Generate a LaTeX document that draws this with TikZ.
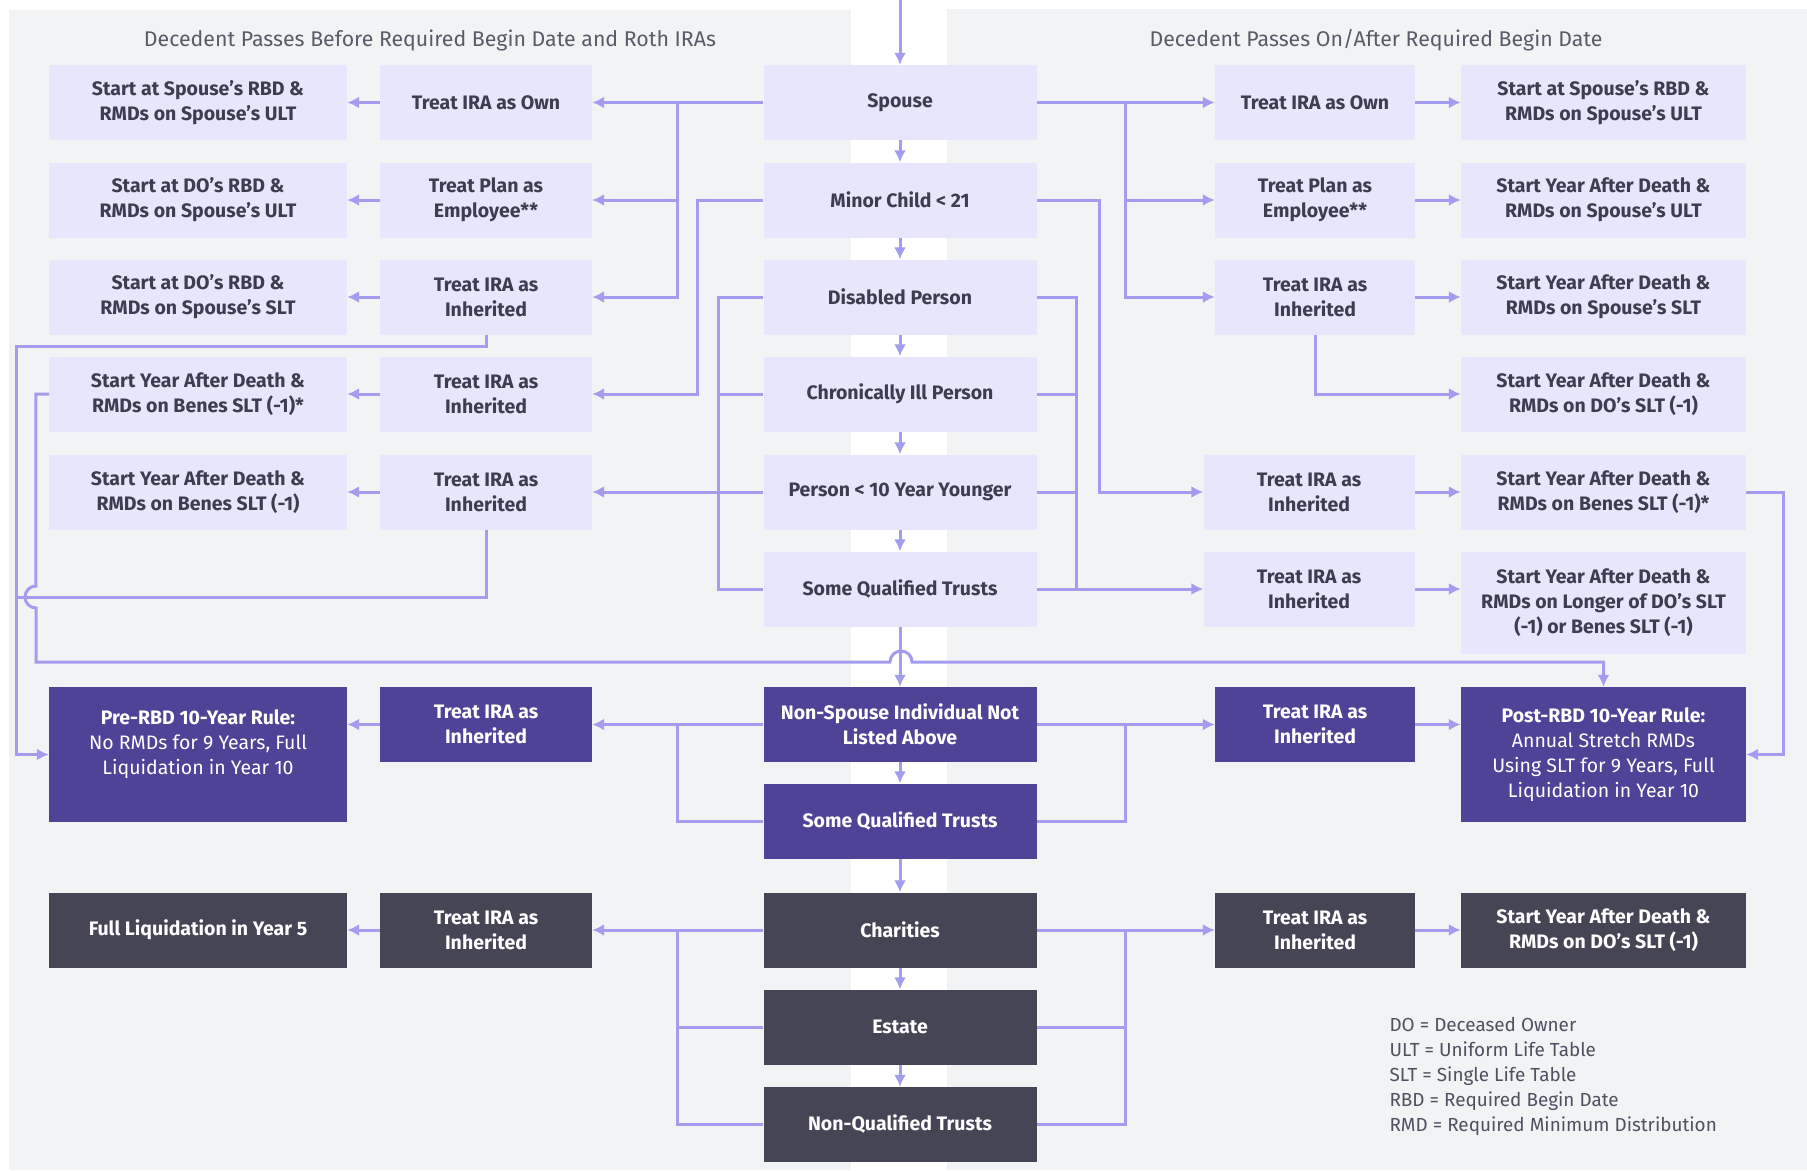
\documentclass[tikz,border=0pt]{standalone}
\usepackage{fontspec}
\setmainfont{Fira Sans}
\usetikzlibrary{arrows.meta}
\definecolor{panel}{HTML}{F2F3F5}
\definecolor{boxlight}{HTML}{E7E6FC}
\definecolor{boxpurple}{HTML}{4F4398}
\definecolor{boxdark}{HTML}{454556}
\definecolor{wire}{HTML}{A49CEE}
\definecolor{ink}{HTML}{3D3D4F}
\tikzset{
  base/.style={inner sep=0pt,align=center,minimum height=75pt,font=\fontsize{19.5}{25}\selectfont\bfseries},
  lbox/.style={base,fill=boxlight,text=ink},
  pbox/.style={base,fill=boxpurple,text=white},
  dbox/.style={base,fill=boxdark,text=white},
  mid/.style={minimum width=273pt},
  ltreat/.style={minimum width=212pt},
  lres/.style={minimum width=298pt},
  rtreat/.style={minimum width=200pt},
  rres/.style={minimum width=285pt},
  flow/.style={draw=wire,line width=3pt,-{Latex[length=12pt,width=12pt]}},
  link/.style={draw=wire,line width=3pt},
  heading/.style={font=\fontsize{21.3}{25}\selectfont,text=ink!85}
}
\begin{document}
\begin{tikzpicture}[x=1pt,y=-1pt]
	\useasboundingbox (0,0) rectangle (1807,1170);
	\fill[white] (0,0) rectangle (1807,1170);
	\fill[panel] (9,10) rectangle (851,1170);
	\fill[panel] (947,9) rectangle (1807,1170);
	\node[heading] (headl) at (430,40) {Decedent Passes Before Required Begin Date and Roth IRAs};
	\node[heading] (headr) at (1376,40) {Decedent Passes On/After Required Begin Date};
	% centre column
	\node[lbox,mid] (spouse) at (900,102.5) {Spouse};
	\node[lbox,mid] (minor) at (900,200) {Minor Child < 21};
	\node[lbox,mid] (disabled) at (900,297) {Disabled Person};
	\node[lbox,mid] (chronic) at (900,394) {Chronically Ill Person};
	\node[lbox,mid] (younger) at (900,492) {Person < 10 Year Younger};
	\node[lbox,mid] (sqta) at (900,589) {Some Qualified Trusts};
	\node[pbox,mid] (nonspouse) at (900,724.5) {Non-Spouse Individual Not\\Listed Above};
	\node[pbox,mid] (sqtb) at (900,821) {Some Qualified Trusts};
	\node[dbox,mid] (charity) at (900,930) {Charities};
	\node[dbox,mid] (estate) at (900,1027) {Estate};
	\node[dbox,mid] (nonqt) at (900,1124.5) {Non-Qualified Trusts};
	% left side
	\node[lbox,ltreat] (lown) at (486,102.5) {Treat IRA as Own};
	\node[lbox,ltreat] (lplan) at (486,200) {Treat Plan as\\Employee**};
	\node[lbox,ltreat] (linha) at (486,297) {Treat IRA as\\Inherited};
	\node[lbox,ltreat] (linhb) at (486,394) {Treat IRA as\\Inherited};
	\node[lbox,ltreat] (linhc) at (486,492) {Treat IRA as\\Inherited};
	\node[pbox,ltreat] (linhd) at (486,724.5) {Treat IRA as\\Inherited};
	\node[dbox,ltreat] (linhe) at (486,930) {Treat IRA as\\Inherited};
	\node[lbox,lres] (lres1) at (198,102.5) {Start at Spouse's RBD \&\\RMDs on Spouse's ULT};
	\node[lbox,lres] (lres2) at (198,200) {Start at DO's RBD \&\\RMDs on Spouse's ULT};
	\node[lbox,lres] (lres3) at (198,297) {Start at DO's RBD \&\\RMDs on Spouse's SLT};
	\node[lbox,lres] (lres4) at (198,394) {Start Year After Death \&\\RMDs on Benes SLT (-1)*};
	\node[lbox,lres] (lres5) at (198,492) {Start Year After Death \&\\RMDs on Benes SLT (-1)};
	\node[pbox,lres,minimum height=135pt] (prerbd) at (198,754.5) {Pre-RBD 10-Year Rule:\\\mdseries No RMDs for 9 Years, Full\\\mdseries Liquidation in Year 10\\ \mbox{}};
	\node[dbox,lres] (lfull) at (198,930) {Full Liquidation in Year 5};
	% right side
	\node[lbox,rtreat] (rown) at (1315,102.5) {Treat IRA as Own};
	\node[lbox,rtreat] (rplan) at (1315,200) {Treat Plan as\\Employee**};
	\node[lbox,rtreat] (rinha) at (1315,297) {Treat IRA as\\Inherited};
	\node[lbox,minimum width=211pt] (rinhb) at (1309,492) {Treat IRA as\\Inherited};
	\node[lbox,minimum width=211pt] (rinhc) at (1309,589) {Treat IRA as\\Inherited};
	\node[pbox,rtreat] (rinhd) at (1315,724.5) {Treat IRA as\\Inherited};
	\node[dbox,rtreat] (rinhe) at (1315,930) {Treat IRA as\\Inherited};
	\node[lbox,rres] (rres1) at (1603.5,102.5) {Start at Spouse's RBD \&\\RMDs on Spouse's ULT};
	\node[lbox,rres] (rres2) at (1603.5,200) {Start Year After Death \&\\RMDs on Spouse's ULT};
	\node[lbox,rres] (rres3) at (1603.5,297) {Start Year After Death \&\\RMDs on Spouse's SLT};
	\node[lbox,rres] (rres4) at (1603.5,394) {Start Year After Death \&\\RMDs on DO's SLT (-1)};
	\node[lbox,rres] (rres5) at (1603.5,492) {Start Year After Death \&\\RMDs on Benes SLT (-1)*};
	\node[lbox,rres,minimum height=102pt] (rres6) at (1603.5,603) {Start Year After Death \&\\RMDs on Longer of DO's SLT\\(-1) or Benes SLT (-1)};
	\node[pbox,rres,minimum height=135pt] (postrbd) at (1603.5,754.5) {Post-RBD 10-Year Rule:\\\mdseries Annual Stretch RMDs\\\mdseries Using SLT for 9 Years, Full\\\mdseries Liquidation in Year 10};
	\node[dbox,rres] (rres7) at (1603.5,930) {Start Year After Death \&\\RMDs on DO's SLT (-1)};
	\node[anchor=north west,align=left,font=\fontsize{18.9}{25}\selectfont,text=ink!90] (legend) at (1386,1014) {DO = Deceased Owner\\ULT = Uniform Life Table\\SLT = Single Life Table\\RBD = Required Begin Date\\RMD = Required Minimum Distribution};
	% centre chain
	\coordinate (entry) at (900,0);
	\draw[flow] (entry) -- (spouse);
	\foreach \a/\b in {spouse/minor,minor/disabled,disabled/chronic,chronic/younger,younger/sqta,sqta/nonspouse,nonspouse/sqtb,sqtb/charity,charity/estate,estate/nonqt}
		\draw[flow] (\a) -- (\b);
	% treat -> result
	\foreach \a/\b in {lown/lres1,lplan/lres2,linha/lres3,linhb/lres4,linhc/lres5,linhe/lfull,rown/rres1,rplan/rres2,rinha/rres3,rinhb/rres5,rinhe/rres7}
		\draw[flow] (\a) -- (\b);
	\draw[flow] (linhd) -- (linhd -| prerbd.east);
	\draw[flow] (rinhc) -- (rinhc -| rres6.west);
	\draw[flow] (rinhd) -- (rinhd -| postrbd.west);
	% left branches
	\draw[flow] (spouse) -- (lown);
	\draw[flow] ([xshift=-86pt]spouse.west) |- (lplan);
	\draw[flow] ([xshift=-86pt]spouse.west) |- (linha);
	\draw[flow] (minor.west) -- ++(-66,0) |- (linhb);
	\draw[link] (disabled.west) -- ++(-45,0) |- (sqta.west);
	\draw[link] (chronic.west) -- ++(-45,0);
	\draw[flow] (younger) -- (linhc);
	\draw[flow] (nonspouse) -- (linhd);
	\draw[link] (sqtb.west) -| ([xshift=-86pt]nonspouse.west);
	\draw[flow] (charity) -- (linhe);
	\draw[link] (nonqt.west) -| ([xshift=-86pt]charity.west);
	\draw[link] (estate.west) -- ++(-86,0);
	% right branches
	\draw[flow] (spouse) -- (rown);
	\draw[flow] ([xshift=89pt]spouse.east) |- (rplan);
	\draw[flow] ([xshift=89pt]spouse.east) |- (rinha);
	\draw[flow] (minor.east) -- ++(63,0) |- (rinhb);
	\draw[link] (disabled.east) -- ++(40,0) |- (sqta.east);
	\draw[link] (chronic.east) -- ++(40,0);
	\draw[link] (younger.east) -- ++(40,0);
	\draw[flow] (sqta) -- (rinhc);
	\draw[flow] (rinha.south) |- (rres4);
	\draw[flow] (nonspouse) -- (rinhd);
	\draw[link] (sqtb.east) -| ([xshift=89pt]nonspouse.east);
	\draw[flow] (charity) -- (rinhe);
	\draw[link] (nonqt.east) -| ([xshift=89pt]charity.east);
	\draw[link] (estate.east) -- ++(89,0);
	% long returns to the 10-year rules
	\coordinate (lmerge) at (17,597);
	\draw[flow] (linha.south) -- ++(0,12) -| ([xshift=-32pt]prerbd.west) -- (prerbd.west);
	\draw[link] (linhc.south) |- (lmerge);
	\draw[flow] (lres4.west) -- ++(-13,0) -- (36,586) arc[start angle=90,end angle=270,radius=11pt] -- (36,662) -- (890,662) arc[start angle=180,end angle=0,radius=11pt] -| (postrbd.north);
	\draw[flow] (rres5.east) -- ++(37,0) |- (postrbd.east);
\end{tikzpicture}
\end{document}
